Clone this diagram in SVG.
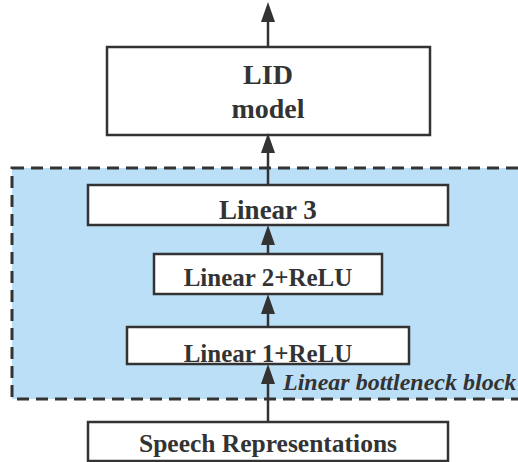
<svg xmlns="http://www.w3.org/2000/svg" width="518" height="462" viewBox="0 0 518 462">
  <style>
    .box { fill: #ffffff; stroke: #333333; stroke-width: 2.5; }
    .lbl { font-family: "Liberation Serif", "Times New Roman", serif; font-weight: bold; fill: #333333; text-anchor: middle; }
    .conn { stroke: #333333; stroke-width: 2.5; fill: none; marker-end: url(#ah); }
  </style>
  <defs>
    <marker id="ah" viewBox="0 0 20 14" refX="2" refY="7" markerWidth="20" markerHeight="14" markerUnits="userSpaceOnUse" orient="auto">
      <path d="M0,0 L20,7 L0,14 z" fill="#333333"/>
    </marker>
  </defs>
  <rect width="518" height="462" fill="#ffffff"/>

  <g id="bottleneck-block">
    <rect x="12" y="168" width="520" height="231" fill="#bcdff8" stroke="#333333" stroke-width="3" stroke-dasharray="12 7"/>
    <text x="283" y="390" font-family="Liberation Serif, Times New Roman, serif" font-weight="bold" font-style="italic" font-size="24" fill="#333333">Linear bottleneck block</text>
  </g>

  <g id="lid-model">
    <rect class="box" x="107" y="47" width="323" height="88"/>
    <text class="lbl" x="268" y="84" font-size="28">LID</text>
    <text class="lbl" x="268" y="118" font-size="28">model</text>
  </g>

  <g id="linear3">
    <rect class="box" x="88" y="185" width="360" height="40"/>
    <text class="lbl" x="268" y="219" font-size="27">Linear 3</text>
  </g>

  <g id="linear2">
    <rect class="box" x="154" y="254" width="228" height="40"/>
    <text class="lbl" x="268" y="286" font-size="25">Linear 2+ReLU</text>
  </g>

  <g id="linear1">
    <rect class="box" x="127" y="327" width="282" height="37"/>
    <text class="lbl" x="268" y="362" font-size="25">Linear 1+ReLU</text>
  </g>

  <g id="speech">
    <rect class="box" x="88" y="422" width="360" height="39"/>
    <text class="lbl" x="268" y="452" font-size="25.5">Speech Representations</text>
  </g>

  <g id="connectors">
    <line class="conn" x1="268" y1="47" x2="268" y2="20"/>
    <line class="conn" x1="268" y1="185" x2="268" y2="151"/>
    <line class="conn" x1="268" y1="254" x2="268" y2="243"/>
    <line class="conn" x1="268" y1="327" x2="268" y2="312"/>
    <line class="conn" x1="268" y1="422" x2="268" y2="382"/>
  </g>
</svg>
